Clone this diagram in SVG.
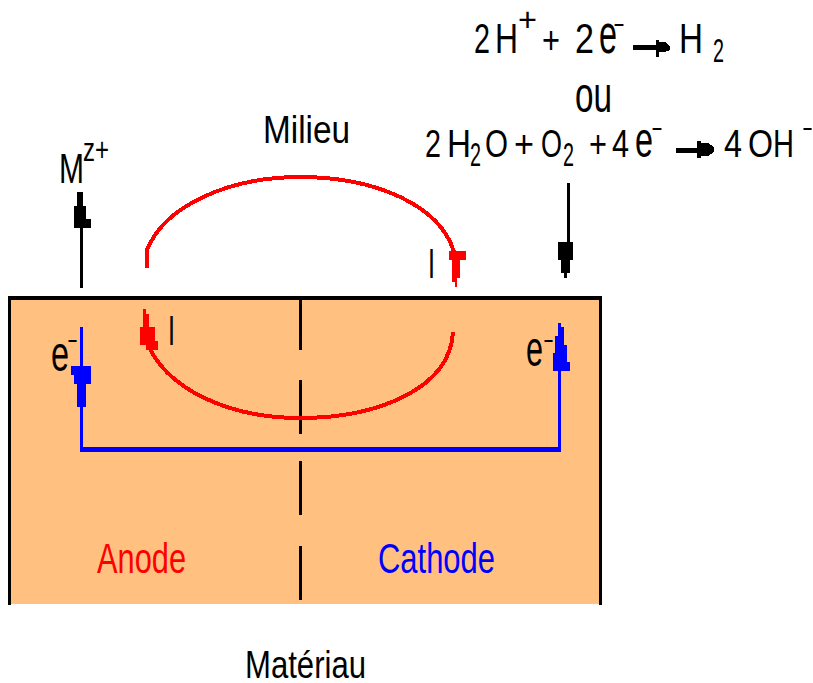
<svg xmlns="http://www.w3.org/2000/svg" width="813" height="683" viewBox="0 0 813 683">
<style>
text{font-family:"Liberation Sans",Arial,sans-serif;fill:#000;font-size:43px}
.f38{font-size:38px}.f50{font-size:50px}.f56{font-size:56px}.f34{font-size:34px}.f24{font-size:24px}
.red{fill:#f00}.blue{fill:#00f}
.c{shape-rendering:crispEdges}
.k{fill:none;stroke:#000;stroke-width:3}
.r{fill:none;stroke:#f00;stroke-width:4}
.b{fill:none;stroke:#00f}
</style>
<rect width="813" height="683" fill="#fff"/>
<g id="materiau" class="c">
<rect x="9" y="298" width="591" height="306" fill="#ffc080"/>
<path d="M9.500 605V298H600.500V605" fill="none" stroke="#000" stroke-width="3.500"/>
<path d="M300.500 298V350M300.500 380V434M300.500 461V515M300.500 546V600" class="k"/>
</g>
<g id="connectors" class="c">
<path class="r" d="M147 268V250C165 205 230 177 300 177C375 177 440 205 454 252"/>
<path class="r" d="M146 340C165 390 230 418 300 418C375 418 450 390 453 332"/>
<path d="M81.500 288V228" class="k"/><path d="M568.500 183V242" class="k"/>
<path d="M81.500 327V449.500H559.500V323" class="b" stroke-width="3"/>
<path d="M80 449.500H561" class="b" stroke-width="5"/>
<path d="M77 192H83V206H86V219H91V228H74V206H77Z"/>
<path d="M558 242H573V260H570V273H567V278H564V273H561V260H558Z"/>
<path d="M449 251H466V260H460V278H457V287H455V282H452V260H449Z" fill="#f00"/>
<path d="M143 309H146V314H149V327H155V341H158V350H146V345H140V327H143Z" fill="#f00"/>
<path d="M71 366H91V384H86V407H83V411H80V407H77V384H74V375H71Z" fill="#00f"/>
<path d="M558 323H561V327H564V345H567V362H570V371H553V353H555V336H558Z" fill="#00f"/>
<path d="M633 45H656V40H659V42H665L670 46V50L665 52H659V57H656V50H633Z"/>
<path d="M676 148H697V141H701V143H708L714 147V152L708 156H701V158H697V153H676Z"/>
</g>
<g id="labels">
<text x="474" y="53" textLength="16" lengthAdjust="spacingAndGlyphs">2</text>
<text x="495" y="53" textLength="23" lengthAdjust="spacingAndGlyphs">H</text>
<text x="518" y="31" class="f34" textLength="19" lengthAdjust="spacingAndGlyphs">+</text>
<text x="542" y="53" class="f38" textLength="18" lengthAdjust="spacingAndGlyphs">+</text>
<text x="575" y="53" textLength="19" lengthAdjust="spacingAndGlyphs">2</text>
<text x="599" y="53" class="f56" textLength="18" lengthAdjust="spacingAndGlyphs">e</text>
<text x="613" y="31" class="f24" textLength="12" lengthAdjust="spacingAndGlyphs">-</text>
<text x="679" y="53" textLength="24" lengthAdjust="spacingAndGlyphs">H</text>
<text x="713" y="62" class="f34" textLength="11" lengthAdjust="spacingAndGlyphs">2</text>
<text x="575" y="112" class="f50" textLength="37" lengthAdjust="spacingAndGlyphs">ou</text>
<text x="425" y="157" class="f38" textLength="16" lengthAdjust="spacingAndGlyphs">2</text>
<text x="447" y="157" class="f38" textLength="24" lengthAdjust="spacingAndGlyphs">H</text>
<text x="470" y="166" class="f34" textLength="11" lengthAdjust="spacingAndGlyphs">2</text>
<text x="485" y="157" class="f38" textLength="23" lengthAdjust="spacingAndGlyphs">O</text>
<text x="514" y="157" class="f38" textLength="20" lengthAdjust="spacingAndGlyphs">+</text>
<text x="541" y="157" class="f38" textLength="21" lengthAdjust="spacingAndGlyphs">O</text>
<text x="563" y="166" class="f34" textLength="11" lengthAdjust="spacingAndGlyphs">2</text>
<text x="589" y="157" class="f38" textLength="18" lengthAdjust="spacingAndGlyphs">+</text>
<text x="612" y="157" class="f38" textLength="17" lengthAdjust="spacingAndGlyphs">4</text>
<text x="635" y="157" class="f50" textLength="18" lengthAdjust="spacingAndGlyphs">e</text>
<text x="651" y="135" class="f24" textLength="12" lengthAdjust="spacingAndGlyphs">-</text>
<text x="724" y="157" class="f38" textLength="18" lengthAdjust="spacingAndGlyphs">4</text>
<text x="748" y="157" class="f38" textLength="25" lengthAdjust="spacingAndGlyphs">O</text>
<text x="773" y="157" class="f38" textLength="21" lengthAdjust="spacingAndGlyphs">H</text>
<text x="802" y="135" class="f24" textLength="11" lengthAdjust="spacingAndGlyphs">-</text>
<text x="263" y="143" class="f38" textLength="87" lengthAdjust="spacingAndGlyphs">Milieu</text>
<text x="59" y="183" textLength="25" lengthAdjust="spacingAndGlyphs">M</text>
<text x="83" y="161" class="f34" textLength="26" lengthAdjust="spacingAndGlyphs">z+</text>
<text x="51" y="371" class="f50" textLength="18" lengthAdjust="spacingAndGlyphs">e</text>
<text x="67" y="347" class="f24" textLength="11" lengthAdjust="spacingAndGlyphs">-</text>
<text x="526" y="366" class="f50" textLength="17" lengthAdjust="spacingAndGlyphs">e</text>
<text x="543" y="347" class="f24" textLength="11" lengthAdjust="spacingAndGlyphs">-</text>
<text x="168" y="345" textLength="7" lengthAdjust="spacingAndGlyphs">I</text>
<text x="428" y="278" textLength="7" lengthAdjust="spacingAndGlyphs">I</text>
<text x="97" y="573" class="red" textLength="89" lengthAdjust="spacingAndGlyphs">Anode</text>
<text x="378" y="573" class="blue" textLength="117" lengthAdjust="spacingAndGlyphs">Cathode</text>
<text x="245" y="678" class="f38" textLength="121" lengthAdjust="spacingAndGlyphs">Matériau</text>
</g>
</svg>
